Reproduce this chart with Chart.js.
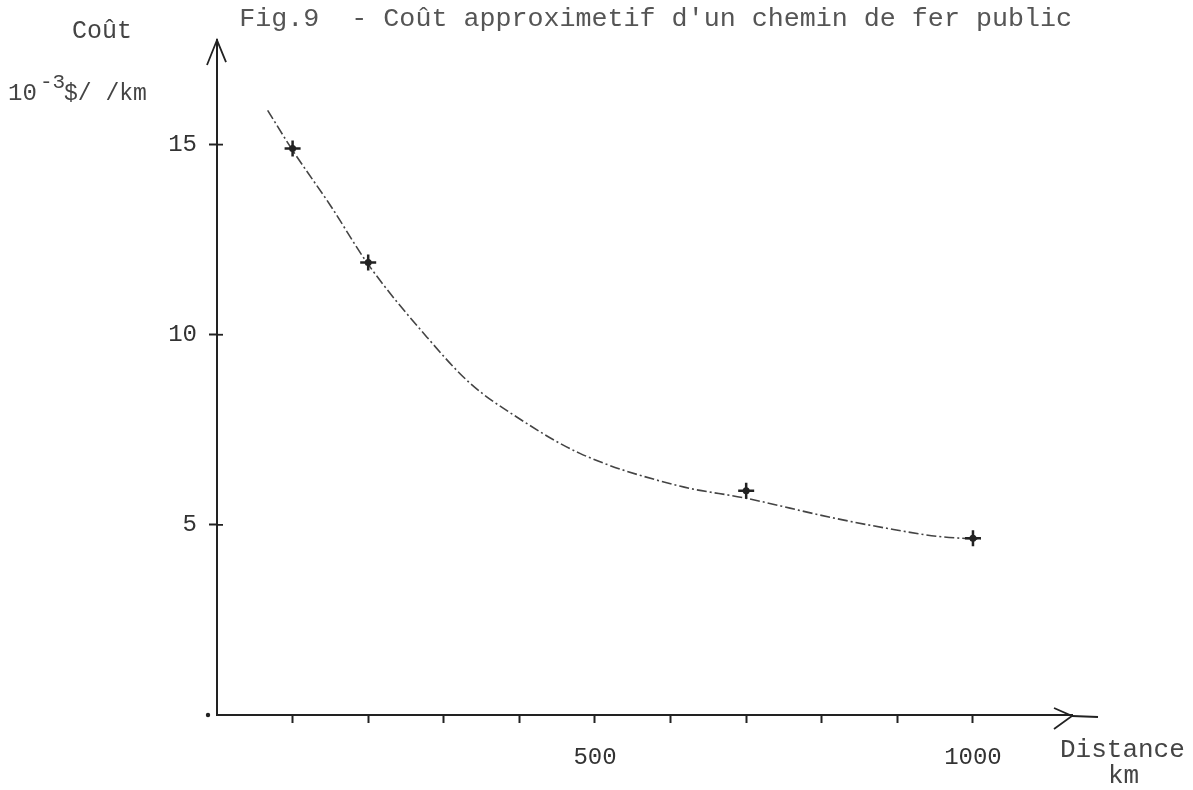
<!DOCTYPE html>
<html><head><meta charset="utf-8">
<script src="https://cdn.jsdelivr.net/npm/chart.js@4.4.1/dist/chart.umd.min.js"></script>
<style>html,body{margin:0;padding:0;background:#fff;}#wrap{width:1193px;height:790px;position:relative;}</style>
</head><body><div id="wrap"><canvas id="c"></canvas></div>
<script>
// ---- data ----
const titleText = "Fig.9  - Coût approximetif d'un chemin de fer public";
const yAxisTitle = "Coût";
const yAxisUnitBase = "10";
const yAxisUnitExp = "-3";
const yAxisUnitRest = "$/ /km";
const xAxisTitle = "Distance";
const xAxisUnit = "km";
// hand-drawn fitted curve (km, 10^-3 $/km)
const curveKm   = [67, 100, 150, 200, 278, 335, 397, 480, 612, 700, 811, 886, 952, 1010];
const curveCost = [15.9, 14.85, 13.4, 11.85, 9.93, 8.72, 7.83, 6.88, 6.02, 5.7, 5.2, 4.91, 4.7, 4.62];
// plotted points
const pointKm   = [100, 200, 700, 1000];
const pointCost = [14.9, 11.9, 5.9, 4.65];
// tick labels
const xTickLabels = {500: "500", 1000: "1000"};
const yTickLabels = {5: "5", 10: "10", 15: "15"};

const FONT = "'Liberation Mono', 'DejaVu Sans Mono', monospace";
Chart.defaults.font.family = FONT;

const toXY = (xs, ys) => xs.map((x, i) => ({x: x, y: ys[i]}));

const decor = {
  id: 'decor',
  afterDraw(chart) {
    const {ctx, chartArea: a} = chart;
    ctx.save();
    ctx.strokeStyle = '#222';
    ctx.lineWidth = 1.8;
    // x axis extension beyond arrow
    ctx.beginPath(); ctx.moveTo(a.right, a.bottom + 1); ctx.lineTo(a.right + 26, a.bottom + 2); ctx.stroke();
    // x arrowhead
    ctx.beginPath();
    ctx.moveTo(a.right - 18, a.bottom - 7);
    ctx.lineTo(a.right, a.bottom + 1);
    ctx.lineTo(a.right - 18, a.bottom + 14);
    ctx.stroke();
    // y arrowhead
    ctx.beginPath();
    ctx.moveTo(a.left - 10, a.top + 25);
    ctx.lineTo(a.left, a.top);
    ctx.lineTo(a.left + 9, a.top + 22);
    ctx.stroke();
    // small cross-ticks on the right of the y axis
    const ys = chart.scales.y;
    [5, 10, 15].forEach(v => {
      const py = ys.getPixelForValue(v);
      ctx.beginPath(); ctx.moveTo(a.left, py); ctx.lineTo(a.left + 6, py); ctx.stroke();
    });
    // origin dot
    ctx.fillStyle = '#222';
    ctx.beginPath(); ctx.arc(a.left - 9, a.bottom, 2.2, 0, Math.PI * 2); ctx.fill();
    // axis texts
    ctx.fillStyle = '#444';
    ctx.textBaseline = 'alphabetic';
    ctx.textAlign = 'left';
    ctx.font = '25px ' + FONT;
    ctx.fillText(yAxisTitle, 72, 38);
    ctx.font = '24px ' + FONT;
    ctx.fillText(yAxisUnitBase, 8, 100);
    ctx.font = '21px ' + FONT;
    ctx.fillText(yAxisUnitExp, 40, 88);
    ctx.font = '23px ' + FONT;
    ctx.fillText(yAxisUnitRest, 64, 100);
    ctx.font = '26px ' + FONT;
    ctx.fillText(xAxisTitle, 1060, 757);
    ctx.fillText(xAxisUnit, 1108, 783);
    ctx.restore();
  }
};

const tickColorX = c => (c.tick && (c.tick.value === 0 || c.tick.value > 1000)) ? 'rgba(0,0,0,0)' : '#222';
const tickColorY = c => (c.tick && c.tick.value === 0) ? 'rgba(0,0,0,0)' : '#222';

new Chart(document.getElementById('c'), {
  type: 'scatter',
  data: {
    datasets: [
      {
        label: 'courbe',
        data: toXY(curveKm, curveCost),
        showLine: true,
        borderColor: '#444',
        borderWidth: 1.6,
        borderDash: [10, 3, 2, 3],
        pointRadius: 0,
        cubicInterpolationMode: 'monotone',
        order: 3
      },
      {
        label: 'points',
        data: toXY(pointKm, pointCost),
        pointStyle: 'cross',
        pointRadius: 8,
        borderWidth: 2.5,
        borderColor: '#222',
        backgroundColor: '#222',
        order: 2
      },
      {
        label: 'centres',
        data: toXY(pointKm, pointCost),
        pointStyle: 'circle',
        pointRadius: 3.5,
        borderWidth: 0,
        backgroundColor: '#222',
        order: 1
      }
    ]
  },
  options: {
    responsive: true,
    maintainAspectRatio: false,
    animation: false,
    events: [],
    layout: {padding: {left: 157, right: 121, top: 0, bottom: 0}},
    plugins: {
      legend: {display: false},
      tooltip: {enabled: false},
      title: {
        display: true,
        text: titleText,
        align: 'end',
        color: '#555',
        font: {size: 26.7, weight: 'normal', family: FONT},
        padding: {top: 3, bottom: 5}
      }
    },
    scales: {
      x: {
        type: 'linear',
        min: 0,
        max: 1131,
        afterFit: s => { s.height = 75; },
        border: {display: true, color: '#222', width: 2},
        grid: {drawOnChartArea: false, drawTicks: true, tickLength: 8, color: tickColorX, tickWidth: 2},
        ticks: {
          stepSize: 100,
          includeBounds: false,
          autoSkip: false,
          maxRotation: 0,
          padding: 20,
          color: '#333',
          font: {size: 24},
          callback: v => xTickLabels[v] || ''
        }
      },
      y: {
        type: 'linear',
        min: 0,
        max: 17.75,
        afterFit: s => { s.width = 60; },
        border: {display: true, color: '#222', width: 2},
        grid: {drawOnChartArea: false, drawTicks: true, tickLength: 8, color: tickColorY, tickWidth: 2},
        ticks: {
          stepSize: 5,
          includeBounds: false,
          padding: 12,
          color: '#333',
          font: {size: 24},
          callback: v => yTickLabels[v] || ''
        }
      }
    }
  },
  plugins: [decor]
});
</script>
</body></html>
